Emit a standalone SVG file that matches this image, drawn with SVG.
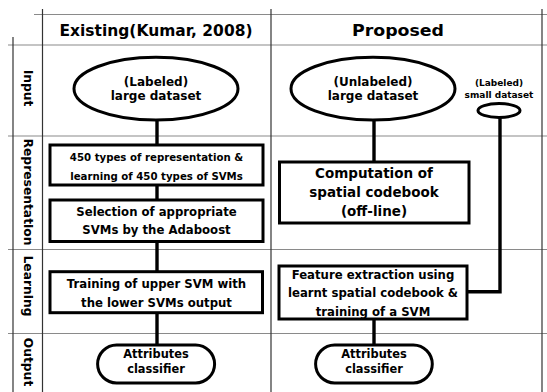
<svg xmlns="http://www.w3.org/2000/svg" width="547" height="392" viewBox="0 0 547 392">
<style>
text{font-family:"DejaVu Sans","Liberation Sans",sans-serif;font-weight:bold;fill:#000;text-anchor:middle}
.hd{font-size:15.5px}
.rl{font-size:12.3px;dominant-baseline:central}
.t{font-size:11.7px}
.hl{stroke:#8a8a8a;stroke-width:1.2;fill:none}
.vl{stroke:#333;stroke-width:1.2;fill:none}
.sh{fill:#fff;stroke:#000;stroke-width:3}
.cn{stroke:#000;stroke-width:3.4;fill:none}
</style>
<g id="grid">
<line class="hl" x1="34" y1="14.5" x2="547" y2="14.5"/>
<line class="hl" x1="8" y1="45" x2="547" y2="45"/>
<line class="hl" x1="8" y1="136" x2="547" y2="136"/>
<line class="hl" x1="8" y1="249.5" x2="547" y2="249.5"/>
<line class="hl" x1="8" y1="333.5" x2="547" y2="333.5"/>
<line class="vl" x1="13" y1="37" x2="13" y2="392"/>
<line class="vl" x1="42.5" y1="9" x2="42.5" y2="392"/>
<line class="vl" x1="271" y1="9" x2="271" y2="392"/>
<line class="vl" x1="542" y1="9" x2="542" y2="392"/>
</g>
<g id="headers">
<text class="hd" x="156" y="36" textLength="193" lengthAdjust="spacingAndGlyphs">Existing(Kumar, 2008)</text>
<text class="hd" x="398" y="36" textLength="92" lengthAdjust="spacingAndGlyphs">Proposed</text>
</g>
<g id="rowlabels">
<text class="rl" transform="translate(28,88) rotate(90)">Input</text>
<text class="rl" transform="translate(28,192) rotate(90)">Representation</text>
<text class="rl" transform="translate(28,286) rotate(90)">Learning</text>
<text class="rl" transform="translate(28,362) rotate(90)">Output</text>
</g>
<g id="connectors">
<line class="cn" x1="157" y1="118" x2="157" y2="146"/>
<line class="cn" x1="157" y1="184" x2="157" y2="201"/>
<line class="cn" x1="157" y1="240" x2="157" y2="273"/>
<line class="cn" x1="157" y1="311" x2="157" y2="346"/>
<line class="cn" x1="374" y1="118" x2="374" y2="163"/>
<line class="cn" x1="374" y1="318" x2="374" y2="346"/>
<polyline class="cn" points="500,116 500,291.7 467,291.7"/>
</g>
<g id="in-left">
<ellipse class="sh" cx="156" cy="88.7" rx="82" ry="31.4"/>
<text x="156" y="86" font-size="12px">(Labeled)</text>
<text x="156" y="100" font-size="12px">large dataset</text>
</g>
<g id="in-right">
<ellipse class="sh" cx="373" cy="88.7" rx="82" ry="31.4"/>
<text x="373" y="86" font-size="12px">(Unlabeled)</text>
<text x="373" y="100" font-size="12px">large dataset</text>
</g>
<g id="in-small">
<ellipse class="sh" cx="499" cy="110.5" rx="21" ry="7"/>
<text x="499" y="86" font-size="9px">(Labeled)</text>
<text x="499" y="98" font-size="9px">small dataset</text>
</g>
<g id="rep1">
<rect class="sh" x="50" y="145" width="213" height="40"/>
<text x="156.5" y="161" font-size="10.2px">450 types of representation &amp;</text>
<text x="156.5" y="180" font-size="10.2px">learning of 450 types of SVMs</text>
</g>
<g id="rep2">
<rect class="sh" x="50" y="200" width="213" height="41.5"/>
<text class="t" x="156.5" y="216">Selection of appropriate</text>
<text class="t" x="156.5" y="234">SVMs by the Adaboost</text>
</g>
<g id="learn-left">
<rect class="sh" x="50" y="271.7" width="212.5" height="41"/>
<text class="t" x="156.5" y="287.5">Training of upper SVM with</text>
<text class="t" x="156.5" y="306.5">the lower SVMs output</text>
</g>
<g id="out-left">
<rect class="sh" x="97.6" y="345" width="117" height="38" rx="19" ry="19"/>
<text x="156" y="358" font-size="11.4px">Attributes</text>
<text x="156" y="373" font-size="11.4px">classifier</text>
</g>
<g id="rep-right">
<rect class="sh" x="279.5" y="162" width="189.5" height="61"/>
<text x="374" y="177.5" font-size="13.5px">Computation of</text>
<text x="374" y="196.5" font-size="13.5px">spatial codebook</text>
<text x="374" y="215.5" font-size="13.5px">(off-line)</text>
</g>
<g id="learn-right">
<rect class="sh" x="279" y="266" width="188" height="53"/>
<text class="t" x="373" y="278.5">Feature extraction using</text>
<text class="t" x="373" y="297">learnt spatial codebook &amp;</text>
<text class="t" x="373" y="315.5">training of a SVM</text>
</g>
<g id="out-right">
<rect class="sh" x="315.6" y="345" width="116.7" height="38" rx="19" ry="19"/>
<text x="374" y="358" font-size="11.4px">Attributes</text>
<text x="374" y="373" font-size="11.4px">classifier</text>
</g>
</svg>
